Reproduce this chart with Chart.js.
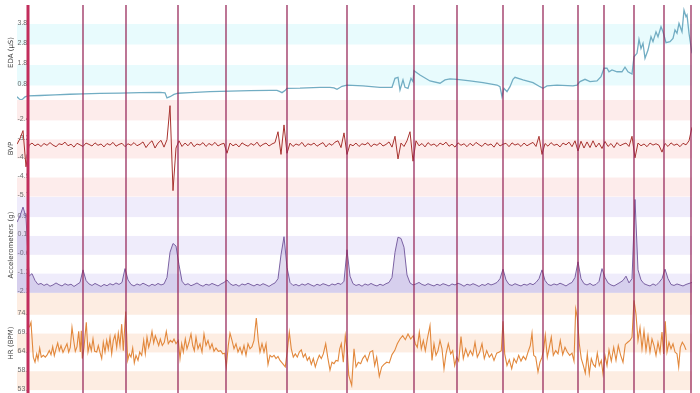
<!DOCTYPE html>
<html>
<head>
<meta charset="utf-8">
<script src="https://cdn.jsdelivr.net/npm/chart.js@4.4.1/dist/chart.umd.min.js"></script>
<style>
  html, body { margin: 0; padding: 0; background: #fff; }
  #wrap { width: 700px; height: 393px; }
</style>
</head>
<body>
<div id="wrap"><canvas id="sensorChart" width="700" height="393"></canvas></div>
<script>
// session time in seconds
const sessionLength = 675;
const sampleStep = 3; // BVP + accel resampled every 3 s

// event markers (s)
const eventTimes = [11, 66, 109, 161, 209, 270, 330, 397, 440, 486, 526, 561, 587, 617, 647, 674];

// EDA (μS)
const edaTime = [0, 2, 4, 6, 8, 11, 23, 38, 53, 66, 83, 103, 123, 143, 148, 150, 153, 157, 161, 173,
  193, 213, 233, 253, 260, 263, 265, 268, 270, 283, 303, 313, 317, 320, 323, 325, 330, 346, 363, 375,
  378, 381, 383, 386, 388, 391, 394, 396, 397, 403, 413, 423, 428, 433, 440, 453, 466, 480, 483, 485,
  487, 490, 493, 496, 498, 506, 516, 523, 526, 530, 540, 556, 560, 563, 568, 573, 580, 584, 587, 590,
  592, 595, 600, 605, 608, 611, 615, 617, 620, 622, 624, 626, 628, 631, 634, 636, 639, 641, 644, 646,
  649, 653, 656, 658, 660, 662, 665, 667, 669, 670, 672, 675];
const edaValues = [0.25, 0.15, 0.09, 0.15, 0.24, 0.29, 0.31, 0.34, 0.37, 0.39, 0.41, 0.43, 0.45, 0.46, 0.44, 0.19, 0.25, 0.36, 0.42, 0.45,
  0.50, 0.52, 0.55, 0.56, 0.56, 0.50, 0.45, 0.55, 0.66, 0.67, 0.71, 0.71, 0.68, 0.61, 0.70, 0.76, 0.82, 0.78, 0.71, 0.71,
  1.15, 1.20, 0.58, 1.07, 0.71, 0.66, 1.15, 0.99, 1.52, 1.31, 1.02, 0.91, 1.07, 1.12, 1.10, 1.02, 0.94, 0.82, 0.74, 0.25,
  0.66, 0.50, 0.74, 1.10, 1.20, 1.07, 0.94, 0.74, 0.66, 0.78, 0.82, 0.78, 0.82, 0.99, 1.10, 0.99, 1.02, 1.23, 1.64, 1.64,
  1.47, 1.56, 1.47, 1.47, 1.69, 1.47, 1.36, 2.20, 2.37, 3.05, 2.61, 2.86, 2.13, 2.53, 3.18, 2.94, 3.42, 3.18, 3.67, 3.42,
  2.89, 2.94, 3.10, 3.51, 3.35, 3.83, 3.42, 4.48, 4.16, 4.24, 3.35, 2.37];

// BVP, one value every sampleStep seconds
const bvpValues = [
  -3.45, -3.20, -2.85, -4.45, -3.50, -3.40, -3.52, -3.44, -3.55, -3.42,
  -3.50, -3.38, -3.49, -3.56, -3.43, -3.47, -3.36, -3.52, -3.45, -3.58,
  -3.41, -3.48, -3.55, -3.40, -3.46, -3.53, -3.39, -3.50, -3.44, -3.57,
  -3.42, -3.49, -3.37, -3.54, -3.46, -3.41, -3.56, -3.43, -3.50, -3.38,
  -3.52, -3.45, -3.35, -3.60, -3.42, -3.30, -3.62, -3.40, -3.28, -3.58,
  -3.25, -1.75, -5.50, -3.62, -3.30, -3.55, -3.40, -3.52, -3.36, -3.56,
  -3.44, -3.49, -3.38, -3.55, -3.42, -3.50, -3.37, -3.53, -3.45, -3.41,
  -3.85, -3.40, -3.52, -3.44, -3.57, -3.39, -3.48, -3.54, -3.42, -3.50,
  -3.36, -3.55, -3.46, -3.40, -3.53, -3.44, -3.38, -2.90, -3.90, -2.60,
  -3.85, -3.40, -3.55, -3.44, -3.50, -3.37, -3.56, -3.43, -3.49, -3.40,
  -3.54, -3.45, -3.38, -3.57, -3.42, -3.50, -3.36, -3.30, -3.60, -2.95,
  -3.90, -3.45, -3.52, -3.40, -3.55, -3.43, -3.48, -3.38, -3.56, -3.44,
  -3.50, -3.39, -3.53, -3.46, -3.35, -3.58, -3.10, -4.10, -3.40, -3.55,
  -3.30, -2.90, -4.20, -3.30, -3.52, -3.42, -3.57, -3.38, -3.50, -3.44,
  -3.55, -3.40, -3.48, -3.36, -3.54, -3.45, -3.58, -3.39, -3.50, -3.43,
  -3.56, -3.41, -3.52, -3.37, -3.47, -3.55, -3.40, -3.50, -3.44, -3.58,
  -3.38, -3.53, -3.45, -3.41, -3.56, -3.39, -3.49, -3.43, -3.55, -3.40,
  -3.52, -3.44, -3.37, -3.55, -3.10, -3.90, -3.42, -3.54, -3.38, -3.50,
  -3.45, -3.57, -3.40, -3.48, -3.36, -3.56, -3.30, -3.75, -3.32, -3.62,
  -3.35, -3.60, -3.30, -3.58, -3.40, -3.64, -3.33, -3.55, -3.42, -3.60,
  -3.38, -3.52, -3.45, -3.40, -3.55, -3.10, -4.05, -3.40, -3.52, -3.44,
  -3.56, -3.40, -3.49, -3.43, -3.50, -3.80, -3.42, -3.55, -3.39, -3.50,
  -3.44, -3.56, -3.41, -3.48, -3.30, -2.70];

// accelerometer magnitude (g), same sampling as BVP
const accelValues = [
  0.70, 0.95, 1.30, 0.90, -1.45, -1.35, -1.62, -1.78, -1.74, -1.82,
  -1.76, -1.85, -1.80, -1.72, -1.79, -1.84, -1.75, -1.81, -1.77, -1.86,
  -1.78, -1.70, -1.20, -1.62, -1.76, -1.82, -1.74, -1.80, -1.86, -1.78,
  -1.83, -1.75, -1.80, -1.72, -1.78, -1.70, -1.15, -1.60, -1.78, -1.84,
  -1.76, -1.81, -1.73, -1.79, -1.85, -1.77, -1.82, -1.74, -1.80, -1.76,
  -1.50, -0.50, -0.15, -0.25, -1.00, -1.65, -1.80, -1.75, -1.83, -1.78,
  -1.72, -1.80, -1.85, -1.77, -1.81, -1.74, -1.79, -1.84, -1.76, -1.70,
  -1.60, -1.75, -1.82, -1.78, -1.85, -1.76, -1.80, -1.73, -1.79, -1.84,
  -1.77, -1.82, -1.75, -1.80, -1.86, -1.78, -1.72, -1.55, -0.60, 0.12,
  -1.10, -1.70, -1.82, -1.78, -1.84, -1.76, -1.81, -1.74, -1.80, -1.85,
  -1.77, -1.82, -1.75, -1.79, -1.84, -1.76, -1.80, -1.73, -1.78, -1.65,
  -0.40, -1.45, -1.75, -1.82, -1.78, -1.85, -1.76, -1.81, -1.74, -1.80,
  -1.84, -1.77, -1.82, -1.75, -1.70, -1.50, -0.50, 0.10, 0.05, -0.30,
  -1.40, -1.72, -1.80, -1.76, -1.70, -1.78, -1.82, -1.75, -1.80, -1.84,
  -1.77, -1.82, -1.75, -1.79, -1.84, -1.76, -1.80, -1.73, -1.78, -1.85,
  -1.77, -1.81, -1.75, -1.80, -1.86, -1.78, -1.82, -1.74, -1.80, -1.76,
  -1.70, -1.55, -1.17, -1.60, -1.78, -1.82, -1.75, -1.80, -1.84, -1.77,
  -1.81, -1.74, -1.79, -1.70, -1.55, -1.20, -1.62, -1.78, -1.82, -1.76,
  -1.80, -1.73, -1.78, -1.84, -1.76, -1.70, -1.50, -0.88, -1.55, -1.75,
  -1.80, -1.74, -1.82, -1.78, -1.66, -1.15, -1.50, -1.72, -1.80, -1.84,
  -1.77, -1.70, -1.62, -1.45, -1.72, -1.55, 1.60, -1.20, -1.60, -1.75,
  -1.80, -1.84, -1.76, -1.82, -1.70, -1.55, -1.17, -1.55, -1.78, -1.82,
  -1.76, -1.80, -1.84, -1.78, -1.74, -1.70];

// HR (BPM)
const hrTime = [12.3, 14, 16.3, 18, 19.7, 21, 22.7, 24.3, 26.3, 28.3, 30.3, 32.3, 34, 35.7, 37.3, 39, 40.7, 42.3, 44, 46,
  48, 50, 51.7, 53.3, 55, 56.7, 58.3, 60, 61.7, 63.3, 64.3, 65.3, 67, 69.3, 71, 72.7, 74.3, 76, 77.7, 79.7,
  81.3, 83, 84.7, 86.3, 88, 89.7, 91.3, 93, 94.7, 96.3, 98, 99.7, 101.3, 103, 104.7, 106.3, 108.7, 110.7, 112.3, 114,
  115.7, 117.3, 119, 121, 122.7, 124.7, 126.7, 128.3, 130, 131.7, 133.3, 135, 136.7, 138.3, 140, 141.7, 143.3, 145.3, 147.3, 149.3,
  151.3, 153.3, 155.3, 157, 159, 161.3, 163, 164.7, 166.3, 168.3, 170, 172, 174, 175.7, 177.3, 179, 181, 183, 185, 187,
  189, 191, 193, 195, 197, 199, 201.3, 203.7, 205.7, 207.7, 209.3, 211.3, 213, 215, 217, 219, 221, 223, 225, 227,
  229, 231, 233, 235, 237, 239.3, 241.3, 243, 245, 247, 249, 251, 253, 255, 257, 259, 261, 263, 265.7, 268.3,
  270.3, 272.3, 274.3, 276.3, 278.3, 280.3, 282.3, 284.3, 286.3, 288.3, 290.3, 292.3, 294.3, 296.3, 298.3, 300.3, 302.3, 304.3, 306.3, 308.7,
  310.7, 313, 315, 317, 319, 321, 322.7, 324.3, 326.3, 328.3, 330.3, 331.7, 334.7, 337, 339, 341.3, 343.7, 345.7, 348, 350.3,
  353, 355.7, 357.7, 359.7, 362.3, 364.7, 367, 369.7, 372.3, 375, 377.7, 380.3, 383, 385.7, 388.3, 391, 393.7, 396.3, 398.3, 400.3,
  402.3, 404.3, 406.3, 408.3, 410.3, 413, 415, 417, 419, 421, 423, 425, 427, 429, 431.3, 433.7, 435.7, 437.7, 439.7, 441.7,
  444, 446.3, 448.7, 451, 453.3, 455.7, 458, 460.3, 462.7, 465, 467.3, 469.7, 472.3, 474.7, 477, 479.7, 482.3, 484.3, 486, 487.7,
  490, 492.3, 494.7, 497, 499.3, 501.7, 504, 506.3, 508.7, 511, 513.3, 515, 516.7, 518.7, 521, 523, 525, 526.7, 528.3, 530.3,
  532.3, 534.3, 536.3, 538.7, 541, 543.3, 545.7, 548, 550.3, 552.7, 555, 557, 558.7, 560.3, 562.3, 564.3, 566.3, 568.3, 570.3, 572.3,
  574.3, 576.3, 578.3, 580.3, 582.3, 584.3, 586, 588, 590, 592, 594.3, 596.7, 599, 601.3, 603.7, 606, 608.3, 610.7, 613, 615,
  617, 619, 621, 623, 625, 627, 629, 631, 633, 635, 637, 639, 641, 643, 645, 646.7, 648.3, 650, 652, 654,
  656, 658, 660, 661.7, 663.3, 665.3, 667.3, 669];
const hrValues = [70.9, 72.3, 62.7, 61.3, 63.6, 62.0, 65.2, 62.7, 63.2, 62.7, 63.4, 64.5, 63.4, 65.6, 63.1, 65.0, 66.6, 64.5, 65.9, 64.0,
  65.2, 66.4, 64.1, 65.4, 70.9, 67.3, 64.3, 65.6, 69.8, 64.1, 70.0, 62.3, 65.4, 72.3, 64.1, 66.4, 64.5, 67.7, 64.3, 64.1,
  65.9, 64.0, 62.3, 66.8, 64.1, 67.3, 64.9, 68.2, 63.6, 67.3, 68.8, 65.4, 69.3, 65.9, 71.8, 64.5, 75.3, 61.8, 63.6, 62.7,
  65.2, 61.1, 63.2, 61.8, 64.1, 63.2, 67.3, 63.6, 68.2, 65.4, 67.1, 69.8, 66.6, 68.6, 67.3, 65.9, 67.7, 65.9, 66.8, 69.8,
  66.4, 67.3, 66.8, 67.7, 66.4, 67.3, 62.3, 66.4, 64.1, 67.7, 65.0, 66.8, 69.1, 65.9, 64.5, 68.2, 65.0, 66.4, 64.1, 69.1,
  65.9, 67.3, 65.0, 66.4, 64.3, 65.2, 64.3, 64.5, 63.6, 63.8, 60.0, 65.9, 69.3, 67.3, 65.0, 66.4, 64.1, 65.4, 63.6, 65.9,
  63.2, 66.4, 65.0, 65.6, 67.3, 73.5, 67.3, 64.1, 66.4, 64.1, 66.4, 60.7, 63.2, 62.7, 63.2, 62.3, 62.9, 61.8, 60.9, 60.0,
  64.5, 69.6, 65.0, 62.7, 63.6, 62.7, 64.1, 64.7, 62.7, 63.6, 61.8, 62.7, 60.7, 62.3, 60.0, 61.8, 63.2, 62.3, 63.6, 66.4,
  62.7, 59.1, 61.3, 60.9, 61.8, 61.6, 65.0, 66.4, 61.3, 68.6, 64.5, 57.7, 54.9, 65.0, 60.0, 61.3, 60.9, 62.3, 63.2, 61.6,
  64.1, 64.5, 60.4, 62.7, 57.4, 60.0, 60.7, 61.3, 61.1, 63.4, 64.5, 66.4, 67.7, 68.6, 67.5, 69.1, 67.7, 68.6, 66.4, 65.4,
  69.6, 65.0, 67.3, 64.5, 67.7, 71.4, 61.8, 66.4, 63.2, 64.5, 67.3, 65.0, 59.5, 63.6, 66.4, 63.6, 64.5, 60.4, 62.7, 61.6,
  68.4, 62.3, 65.0, 62.9, 64.5, 63.2, 66.8, 62.7, 64.1, 66.4, 62.3, 64.5, 62.7, 63.6, 61.8, 63.8, 64.1, 64.5, 72.6, 63.6,
  60.4, 62.0, 59.5, 62.3, 61.1, 63.2, 61.6, 62.9, 62.0, 64.1, 65.9, 69.3, 63.2, 62.7, 58.6, 61.3, 62.7, 65.0, 68.8, 62.7,
  65.4, 68.2, 63.2, 64.5, 63.6, 67.3, 63.4, 65.4, 64.1, 63.2, 63.8, 61.6, 76.0, 73.7, 66.4, 62.3, 60.4, 58.3, 63.6, 58.1,
  62.3, 60.7, 60.0, 63.8, 60.4, 61.8, 58.1, 63.2, 60.4, 64.7, 61.6, 65.4, 61.8, 65.9, 63.2, 61.3, 66.2, 66.8, 67.3, 68.2,
  78.4, 74.5, 67.3, 70.9, 65.0, 70.0, 64.5, 68.6, 64.1, 67.7, 65.9, 63.2, 66.8, 64.1, 69.6, 63.6, 72.6, 64.1, 66.8, 65.0,
  66.4, 64.1, 63.6, 60.0, 65.4, 66.8, 65.9, 64.7];

// y ticks per panel
const edaTicks = [0.8, 1.8, 2.8, 3.8];
const edaTickLabels = ["0.80", "1.80", "2.80", "3.80"];
const bvpTicks = [-5.76, -4.92, -4.08, -3.24, -2.4];
const bvpTickLabels = ["-5.76", "-4.92", "-4.08", "-3.24", "-2.40"];
const accelTicks = [-2.1, -1.35, -0.6, 0.15, 0.9];
const accelTickLabels = ["-2.10", "-1.35", "-0.60", "0.15", "0.90"];
const hrTicks = [53.6, 58.8, 64.0, 69.2, 74.4];
const hrTickLabels = ["53.60", "58.80", "64.00", "69.20", "74.40"];

const panels = [
  { id: "yEda", ticks: edaTicks, labels: edaTickLabels, band: "#e8fbfd", parity: 1 },
  { id: "yBvp", ticks: bvpTicks, labels: bvpTickLabels, band: "#fdeceb", parity: 0 },
  { id: "yAcc", ticks: accelTicks, labels: accelTickLabels, band: "#efecfb", parity: 0 },
  { id: "yHr", ticks: hrTicks, labels: hrTickLabels, band: "#fdede2", parity: 0 },
];

// alternating bands + clipped tick labels, under the signals
const bandPlugin = {
  id: "bandPlugin",
  beforeDatasetsDraw(chart) {
    const { ctx, chartArea } = chart;
    const clipRight = chart.scales.x.getPixelForValue(eventTimes[0]);
    panels.forEach((p) => {
      const s = chart.scales[p.id];
      const edges = [s.max, ...p.ticks.slice().sort((a, b) => b - a), s.min];
      ctx.save();
      ctx.fillStyle = p.band;
      for (let i = 0; i < edges.length - 1; i++) {
        if (i % 2 !== p.parity) continue;
        const y1 = s.getPixelForValue(edges[i]);
        const y2 = s.getPixelForValue(edges[i + 1]);
        ctx.fillRect(chartArea.left, y1, chartArea.right - chartArea.left, y2 - y1);
      }
      ctx.beginPath();
      ctx.rect(chartArea.left, s.top, clipRight - chartArea.left, s.bottom - s.top);
      ctx.clip();
      ctx.font = '7px "Liberation Sans"';
      ctx.fillStyle = "#6a6a6a";
      ctx.textAlign = "left";
      ctx.textBaseline = "alphabetic";
      p.ticks.forEach((v, k) => {
        ctx.fillText(p.labels[k], chartArea.left + 0.5, s.getPixelForValue(v) + 0.5);
      });
      ctx.restore();
    });
  },
};

// event markers across all panels
const eventPlugin = {
  id: "eventPlugin",
  afterDatasetsDraw(chart) {
    const { ctx, chartArea } = chart;
    const x = chart.scales.x;
    ctx.save();
    eventTimes.forEach((t, i) => {
      const px = x.getPixelForValue(t);
      ctx.beginPath();
      ctx.strokeStyle = i === 0 ? "#c22d5c" : "rgba(150,38,88,0.9)";
      ctx.lineWidth = i === 0 ? 3 : 1.4;
      ctx.moveTo(px, chartArea.top);
      ctx.lineTo(px, chartArea.bottom);
      ctx.stroke();
    });
    ctx.restore();
  },
};

const toPoints = (times, values) => values.map((v, i) => ({ x: times[i], y: v }));
const uniformTimes = bvpValues.map((v, i) => i * sampleStep);

const axisTitle = (text) => ({
  display: true,
  text: text,
  color: "#444",
  font: { family: "DejaVu Sans", size: 7 },
  padding: { top: 7, bottom: 1.6 },
});

const panelScale = (title, min, max, weight, order) => ({
  type: "linear",
  position: "left",
  stack: "panels",
  stackWeight: weight,
  weight: order,
  min: min,
  max: max,
  ticks: { display: false },
  grid: { display: false, drawTicks: false },
  border: { display: false },
  title: axisTitle(title),
});

new Chart(document.getElementById("sensorChart").getContext("2d"), {
  type: "line",
  data: {
    datasets: [
      {
        label: "EDA",
        data: toPoints(edaTime, edaValues),
        yAxisID: "yEda",
        borderColor: "#72adc3",
        borderWidth: 1.3,
      },
      {
        label: "BVP",
        data: toPoints(uniformTimes, bvpValues),
        yAxisID: "yBvp",
        borderColor: "#a8332f",
        borderWidth: 1,
      },
      {
        label: "Accelerometers",
        data: toPoints(uniformTimes, accelValues),
        yAxisID: "yAcc",
        borderColor: "#7b62a3",
        backgroundColor: "rgba(140,118,196,0.25)",
        fill: "start",
        borderWidth: 1,
      },
      {
        label: "HR",
        data: toPoints(hrTime, hrValues),
        yAxisID: "yHr",
        borderColor: "#e2883c",
        borderWidth: 1.1,
      },
    ],
  },
  options: {
    responsive: false,
    animation: false,
    devicePixelRatio: 1,
    layout: { padding: { top: 5, right: 8, bottom: 0, left: 0 } },
    elements: { point: { radius: 0 }, line: { tension: 0 } },
    plugins: { legend: { display: false }, tooltip: { enabled: false } },
    scales: {
      x: { type: "linear", display: false, min: 0, max: sessionLength },
      yEda: panelScale("EDA (μS)", 0.09, 4.73, 95, 4),
      yBvp: panelScale("BVP", -5.78, -1.5, 97, 3),
      yAcc: panelScale("Accelerometers (g)", -2.12, 1.7, 96, 2),
      yHr: panelScale("HR (BPM)", 52.8, 80.4, 100, 1),
    },
  },
  plugins: [bandPlugin, eventPlugin],
});
</script>
</body>
</html>
